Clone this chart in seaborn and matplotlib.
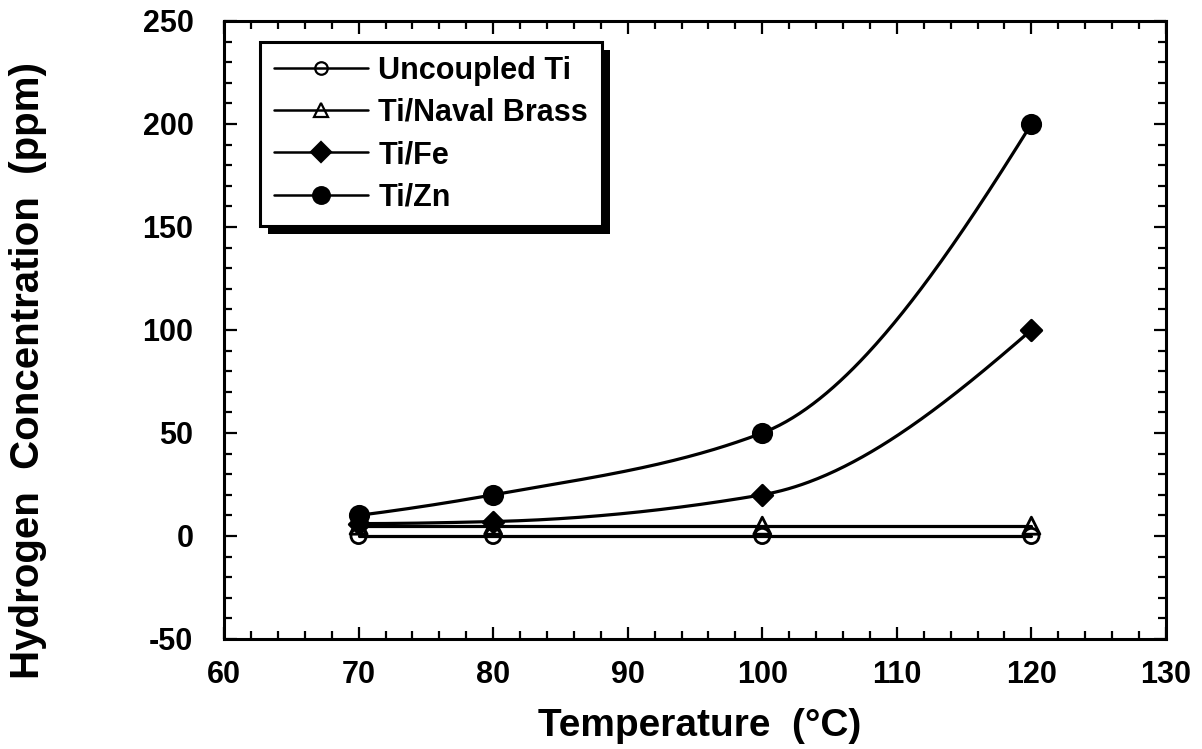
import matplotlib
matplotlib.use("Agg")
import matplotlib.pyplot as plt
from matplotlib.lines import Line2D
from matplotlib.patches import Rectangle
from matplotlib.ticker import MultipleLocator
import seaborn as sns
import pandas as pd
import numpy as np

# values
temperature = [70, 80, 100, 120]
uncoupled_ti = [0, 0, 0, 0]
naval_brass = [5, 5, 5, 5]
ti_fe = [6, 7, 20, 100]
ti_zn = [10, 20, 50, 200]

series_names = ["Uncoupled Ti", "Ti/Naval Brass", "Ti/Fe", "Ti/Zn"]
series_values = [uncoupled_ti, naval_brass, ti_fe, ti_zn]
markers = ["o", "^", "D", "o"]
filled = [False, False, True, True]
marker_sizes = [120, 150, 110, 175]


def pchip(x, y, xs):
    # monotone cubic hermite, used only to draw a smooth line through the points
    x = np.asarray(x, float)
    y = np.asarray(y, float)
    h = np.diff(x)
    delta = np.diff(y) / h
    n = len(x)
    d = np.zeros(n)
    for k in range(1, n - 1):
        if delta[k - 1] * delta[k] > 0:
            w1 = 2 * h[k] + h[k - 1]
            w2 = h[k] + 2 * h[k - 1]
            d[k] = (w1 + w2) / (w1 / delta[k - 1] + w2 / delta[k])
    d[0] = ((2 * h[0] + h[1]) * delta[0] - h[0] * delta[1]) / (h[0] + h[1])
    if np.sign(d[0]) != np.sign(delta[0]):
        d[0] = 0
    d[-1] = ((2 * h[-1] + h[-2]) * delta[-1] - h[-1] * delta[-2]) / (h[-1] + h[-2])
    if np.sign(d[-1]) != np.sign(delta[-1]):
        d[-1] = 0
    idx = np.clip(np.searchsorted(x, xs) - 1, 0, n - 2)
    t = (xs - x[idx]) / h[idx]
    h00 = 2 * t**3 - 3 * t**2 + 1
    h10 = t**3 - 2 * t**2 + t
    h01 = -2 * t**3 + 3 * t**2
    h11 = t**3 - t**2
    return h00 * y[idx] + h10 * h[idx] * d[idx] + h01 * y[idx + 1] + h11 * h[idx] * d[idx + 1]


sns.set_theme(style="ticks")
plt.rcParams["font.family"] = ["Liberation Sans", "DejaVu Sans"]
plt.rcParams["axes.unicode_minus"] = False
for key in ["text.color", "axes.labelcolor", "xtick.color", "ytick.color", "axes.edgecolor"]:
    plt.rcParams[key] = "black"

fig = plt.figure(figsize=(12.02, 7.49), dpi=100)
ax = fig.add_axes([0.1864, 0.1469, 0.7836, 0.8251])

x_dense = np.linspace(min(temperature), max(temperature), 300)
for name, vals, mk, fl, ms in zip(series_names, series_values, markers, filled, marker_sizes):
    curve = pd.DataFrame({"T": x_dense, "H": pchip(temperature, vals, x_dense)})
    sns.lineplot(data=curve, x="T", y="H", ax=ax, color="black", linewidth=2.3,
                 legend=False, zorder=2)
    pts = pd.DataFrame({"T": temperature, "H": vals})
    sns.scatterplot(data=pts, x="T", y="H", ax=ax, marker=mk, s=ms,
                    facecolor="black" if fl else "none", edgecolor="black",
                    linewidth=2.0, legend=False, zorder=3)

ax.set_xlim(60, 130)
ax.set_ylim(-50, 250)
ax.xaxis.set_major_locator(MultipleLocator(10))
ax.xaxis.set_minor_locator(MultipleLocator(2))
ax.yaxis.set_major_locator(MultipleLocator(50))
ax.yaxis.set_minor_locator(MultipleLocator(10))
ax.tick_params(which="both", direction="in", top=True, right=True, width=1.6, color="black")
ax.tick_params(which="major", length=9)
ax.tick_params(which="minor", length=5.5)
ax.tick_params(axis="x", which="major", labelsize=22, pad=15)
ax.tick_params(axis="y", which="major", labelsize=22, pad=22)
for lbl in ax.get_xticklabels() + ax.get_yticklabels():
    lbl.set_fontweight("bold")
for sp in ax.spines.values():
    sp.set_linewidth(2.2)

ax.set_xlabel("Temperature  (\u00b0C)", fontsize=28, fontweight="bold")
ax.set_ylabel("Hydrogen  Concentration  (ppm)", fontsize=29, fontweight="bold")
ax.xaxis.set_label_coords(0.505, -0.112)
ax.yaxis.set_label_coords(-0.188, 0.435)

handles = []
for name, mk, fl in zip(series_names, markers, filled):
    msz = {"o": 9 if not fl else 12, "^": 10, "D": 10}[mk]
    handles.append(Line2D([], [], color="black", linewidth=1.8, marker=mk, markersize=msz,
                          markerfacecolor="black" if fl else "none",
                          markeredgecolor="black", markeredgewidth=1.6, label=name))
leg = ax.legend(handles=handles, loc="upper left", bbox_to_anchor=(0.038, 0.966),
                prop={"size": 22, "weight": "bold"}, frameon=True, fancybox=False,
                framealpha=1, edgecolor="black", handlelength=3.1, handletextpad=0.33,
                labelspacing=0.4, borderpad=0.45, borderaxespad=0)
leg.get_frame().set_linewidth(2.2)
leg.set_zorder(6)

# offset drop shadow behind the legend box
fig.canvas.draw()
bb = leg.get_window_extent().transformed(ax.transAxes.inverted())
ax_w = ax.get_window_extent().width
ax_h = ax.get_window_extent().height
dx, dy = 8 / ax_w, 8 / ax_h
ax.add_patch(Rectangle((bb.x0 + dx, bb.y0 - dy), bb.width, bb.height,
                       transform=ax.transAxes, facecolor="black", edgecolor="none",
                       clip_on=False, zorder=5.5))

fig.savefig("out.png", dpi=100)
